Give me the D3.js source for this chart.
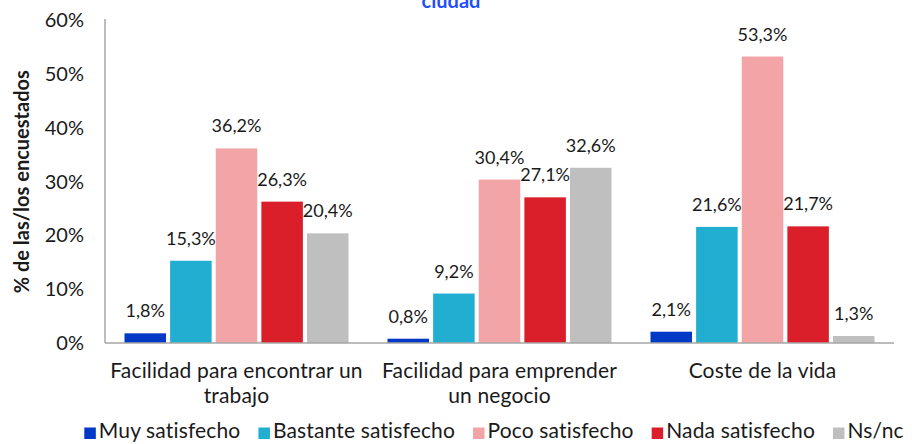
<!DOCTYPE html>
<html>
<head>
<meta charset="utf-8">
<script src="https://cdn.jsdelivr.net/npm/d3@7"></script>
<style>
  body { margin: 0; background: #fff; }
  svg { display: block; font-family: Lato, "Open Sans", sans-serif; }
</style>
</head>
<body>
<div id="chart"></div>
<script>
// Data
const categories = ['Facilidad para encontrar un trabajo', 'Facilidad para emprender un negocio', 'Coste de la vida'];
const seriesNames = ['Muy satisfecho', 'Bastante satisfecho', 'Poco satisfecho', 'Nada satisfecho', 'Ns/nc'];
const muy = [1.8, 0.8, 2.1];
const bastante = [15.3, 9.2, 21.6];
const poco = [36.2, 30.4, 53.3];
const nada = [26.3, 27.1, 21.7];
const nsnc = [20.4, 32.6, 1.3];
const yTicks = [0, 10, 20, 30, 40, 50, 60];
const colors = ['#0039c6', '#21aed0', '#f2a4a6', '#da1f2a', '#bfbfbf'];

const seriesValues = [muy, bastante, poco, nada, nsnc];

const width = 912, height = 444;
const margin = { top: 20.5, right: 18, bottom: 101, left: 105 };

const svg = d3.select('#chart')
    .append('svg')
    .attr('width', width)
    .attr('height', height);

// Scales
const x0 = d3.scaleBand()
    .domain(categories)
    .range([margin.left, width - margin.right])
    .padding(0);

const x1 = d3.scaleBand()
    .domain(seriesNames)
    .range([19.5, x0.bandwidth() - 19.5])
    .paddingInner(0.09);

const y = d3.scaleLinear()
    .domain([0, 60])
    .range([height - margin.bottom, margin.top]);

const fmt = v => d3.format('.1f')(v).replace('.', ',') + '%';

// Title (cut off at the top, as in the source)
svg.append('text')
    .attr('x', 451)
    .attr('y', 7.5)
    .attr('text-anchor', 'middle')
    .attr('font-size', 20)
    .attr('font-weight', 'bold')
    .attr('fill', '#1f4fff')
    .text('ciudad');

// Y axis labels
const yAxis = svg.append('g')
    .attr('transform', `translate(${margin.left},0)`)
    .call(d3.axisLeft(y).tickValues(yTicks).tickFormat(d => d + '%').tickSize(0).tickPadding(21));
yAxis.select('.domain').remove();
yAxis.selectAll('text')
    .attr('font-size', 20)
    .attr('font-family', 'Lato, sans-serif')
    .attr('fill', '#1a1a1a');

// Y axis title
svg.append('text')
    .attr('transform', `translate(29,${(y(0) + y(60)) / 2}) rotate(-90)`)
    .attr('text-anchor', 'middle')
    .attr('font-size', 20)
    .attr('font-weight', 'bold')
    .attr('fill', '#1a1a1a')
    .text('% de las/los encuestados');

// Bars
const groups = svg.append('g')
    .selectAll('g')
    .data(categories)
    .enter()
    .append('g')
    .attr('transform', d => `translate(${x0(d)},0)`);

const cells = groups.selectAll('g')
    .data((c, ci) => seriesNames.map((s, si) => ({ s, si, v: seriesValues[si][ci] })))
    .enter()
    .append('g');

cells.append('rect')
    .attr('x', d => x1(d.s))
    .attr('y', d => y(d.v))
    .attr('width', x1.bandwidth())
    .attr('height', d => y(0) - y(d.v))
    .attr('fill', d => colors[d.si]);

cells.append('text')
    .attr('x', d => x1(d.s) + x1.bandwidth() / 2)
    .attr('y', d => y(d.v) - 16)
    .attr('text-anchor', 'middle')
    .attr('font-size', 18)
    .attr('fill', '#1a1a1a')
    .text(d => fmt(d.v));

// Axis lines
svg.append('line')
    .attr('x1', margin.left).attr('x2', margin.left)
    .attr('y1', y(60) - 1.5).attr('y2', y(0))
    .attr('stroke', '#a6a6a6').attr('stroke-width', 1.5);

svg.append('line')
    .attr('x1', margin.left).attr('x2', width - margin.right)
    .attr('y1', y(0)).attr('y2', y(0))
    .attr('stroke', '#a6a6a6').attr('stroke-width', 1.5);

// Category labels, wrapped
const catLabels = svg.append('g')
    .selectAll('text')
    .data(categories)
    .enter()
    .append('text')
    .attr('x', d => x0(d) + x0.bandwidth() / 2)
    .attr('y', 378)
    .attr('text-anchor', 'middle')
    .attr('font-size', 21)
    .attr('letter-spacing', 0.15)
    .attr('fill', '#1a1a1a');

catLabels.each(function (d) {
    const t = d3.select(this);
    const words = d.split(' ');
    let line = [];
    let tspan = t.append('tspan').attr('x', t.attr('x')).attr('dy', 0);
    words.forEach(w => {
        line.push(w);
        tspan.text(line.join(' '));
        if (tspan.node().getComputedTextLength() > 258 && line.length > 1) {
            line.pop();
            tspan.text(line.join(' '));
            line = [w];
            tspan = t.append('tspan').attr('x', t.attr('x')).attr('dy', 25).text(w);
        }
    });
});

// Legend
const legend = svg.append('g');
const items = legend.selectAll('g')
    .data(seriesNames)
    .enter()
    .append('g');

items.append('rect')
    .attr('y', 427.5)
    .attr('width', 11.5)
    .attr('height', 11.5)
    .attr('fill', (d, i) => colors[i]);

items.append('text')
    .attr('x', 14.5)
    .attr('y', 438)
    .attr('font-size', 21)
    .attr('letter-spacing', 0.15)
    .attr('fill', '#1a1a1a')
    .text(d => d);

let offset = 0;
const gap = 18;
items.each(function () {
    const w = d3.select(this).select('text').node().getComputedTextLength() + 14.5;
    d3.select(this).attr('transform', `translate(${offset},0)`);
    offset += w + gap;
});
const total = offset - gap;
legend.attr('transform', `translate(${494 - total / 2},0)`);
</script>
</body>
</html>
